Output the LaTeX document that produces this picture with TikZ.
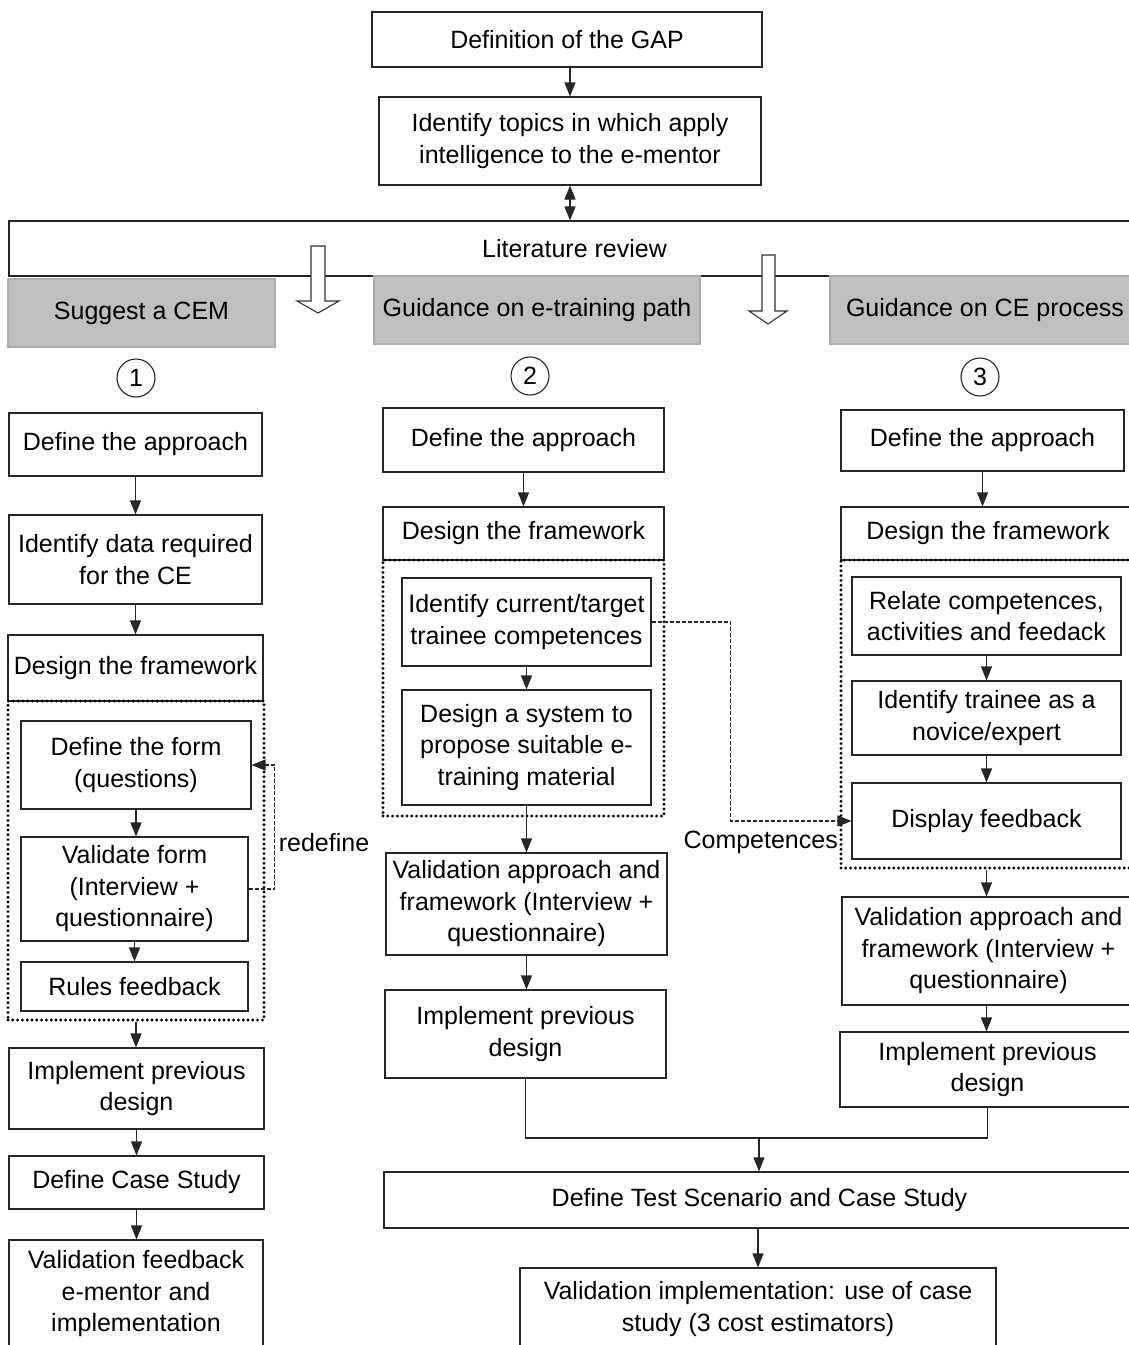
\documentclass[tikz,border=0pt]{standalone}
\usepackage{fontspec}
\setmainfont{Liberation Sans}
\usetikzlibrary{arrows.meta}
% box given by its corners: [options]{name}{x1}{y1}{x2}{y2}{text}
\newcommand\mkbox[7][]{%
  \pgfmathsetmacro\mkboxcx{(#3+#5)/2}%
  \pgfmathsetmacro\mkboxcy{(#4+#6)/2}%
  \pgfmathsetmacro\mkboxw{#5-#3}%
  \pgfmathsetmacro\mkboxh{#6-#4}%
  \node[box,#1,minimum width=\mkboxw pt,minimum height=\mkboxh pt] (#2) at (\mkboxcx,\mkboxcy) {#7};}
\begin{document}
\begin{tikzpicture}[x=1pt,y=-1pt,
  every node/.style={font=\fontsize{25}{31.5}\selectfont},
  box/.style={draw=black!85, fill=white, line width=1.1pt, align=center, inner sep=0pt},
  greybox/.style={draw=black!32, fill=black!25},
  dotbox/.style={draw=black, fill=none, line width=3.2pt, dash pattern=on 0pt off 4.8pt, line cap=round},
  arr/.style={-{Triangle[width=11pt,length=14pt]}, line width=1.1pt, draw=black!85},
  dasharr/.style={arr, line width=1.2pt, dash pattern=on 4pt off 2pt},
  hollow/.style={draw=black!80, fill=white, line width=1.1pt, line join=miter},
  numcirc/.style={circle, draw=black!85, line width=1.1pt, minimum size=38pt, inner sep=0pt},
  lbl/.style={inner sep=0pt}]
\useasboundingbox (0,0) rectangle (1129,1345);
\clip (0,0) rectangle (1129,1345);
\fill[white] (0,0) rectangle (1129,1345);

% ---- top of the chain
\mkbox{gap}{372}{12}{762}{67}{Definition of the GAP}
\mkbox{topics}{379}{97}{761}{185}{Identify topics in which apply\\intelligence to the e-mentor}
\mkbox{lit}{9}{221}{1140}{276}{Literature review}

\draw[arr] (topics.north |- gap.south) -- (topics.north);
\draw[{Triangle[width=11pt,length=14pt]}-{Triangle[width=11pt,length=14pt]}, line width=1.1pt, draw=black!85]
  (topics.south) -- (topics.south |- lit.north);

% ---- the three lines of work
\mkbox[greybox]{cem}{8}{279}{275}{347}{Suggest a CEM}
\mkbox[greybox]{path}{374}{276}{700}{344}{Guidance on e-training path}
\mkbox[greybox]{proc}{830}{276}{1140}{344}{Guidance on CE process}

% hollow arrows out of the literature review
\draw[hollow] (311,246) -- (325,246) -- (325,301) -- (339,301) -- (318,313) -- (297,301) -- (311,301) -- cycle;
\draw[hollow] (762,255) -- (775,255) -- (775,311) -- (787,311) -- (768,324) -- (749,311) -- (762,311) -- cycle;

\node[numcirc] (n1) at (136,378) {1};
\node[numcirc] (n2) at (530,376) {2};
\node[numcirc] (n3) at (980,377) {3};

% ---- column 1
\mkbox{c1a}{9}{413}{262}{476}{Define the approach}
\mkbox{c1b}{9}{515}{262}{604}{Identify data required\\for the CE}
\mkbox{c1c}{8}{635}{263}{701}{Design the framework}
\mkbox[dotbox, fill=none]{g1}{8}{701}{264}{1020}{}
\mkbox{c1d}{21}{721}{251}{809}{Define the form\\(questions)}
\mkbox{c1e}{21}{837}{248}{941}{Validate form\\(Interview +\\questionnaire)}
\mkbox{c1f}{21}{962}{248}{1011}{Rules feedback}
\mkbox{c1g}{9}{1048}{264}{1129}{Implement previous\\design}
\mkbox{c1h}{9}{1156}{264}{1209}{Define Case Study}
\mkbox{c1i}{9}{1240}{263}{1348}{Validation feedback\\e-mentor and\\implementation}

\draw[arr] (c1a.south) -- (c1a.south |- c1b.north);
\draw[arr] (c1b.south) -- (c1b.south |- c1c.north);
\draw[arr] (c1d.south) -- (c1d.south |- c1e.north);
\draw[arr] (c1e.south) -- (c1e.south |- c1f.north);
\draw[arr] (g1.south) -- (g1.south |- c1g.north);
\draw[arr] (c1g.south) -- (c1g.south |- c1h.north);
\draw[arr] (c1h.south) -- (c1h.south |- c1i.north);
\draw[dasharr] (c1e.east) -- ++(26,0) |- (c1d.east);
\node[lbl] (redef) at (324,843) {redefine};

% ---- column 2
\mkbox{c2a}{383}{408}{664}{472}{Define the approach}
\mkbox{c2b}{383}{507}{664}{560}{Design the framework}
\mkbox[dotbox, fill=none]{g2}{383}{560}{664}{816}{}
\mkbox{c2c}{402}{578}{651}{666}{Identify current/target\\trainee competences}
\mkbox{c2d}{402}{690}{651}{805}{Design a system to\\propose suitable e-\\training material}
\mkbox{c2e}{386}{853}{667}{955}{Validation approach and\\framework (Interview +\\questionnaire)}
\mkbox{c2f}{385}{990}{666}{1078}{Implement previous\\design}

\draw[arr] (c2a.south) -- (c2a.south |- c2b.north);
\draw[arr] (c2c.south) -- (c2c.south |- c2d.north);
\draw[arr] (c2d.south) -- (c2d.south |- c2e.north);
\draw[arr] (c2e.south) -- (c2e.south |- c2f.north);

% ---- column 3
\mkbox{c3a}{841}{410}{1124}{471}{Define the approach}
\mkbox{c3b}{841}{507}{1135}{560}{Design the framework}
\mkbox[dotbox, fill=none]{g3}{841}{560}{1140}{868}{}
\mkbox{c3c}{852}{577}{1121}{655}{Relate competences,\\activities and feedack}
\mkbox{c3d}{852}{681}{1121}{755}{Identify trainee as a\\novice/expert}
\mkbox{c3e}{852}{783}{1121}{859}{Display feedback}
\mkbox{c3f}{842}{897}{1135}{1005}{Validation approach and\\framework (Interview +\\questionnaire)}
\mkbox{c3g}{840}{1032}{1135}{1107}{Implement previous\\design}

\draw[arr] (c3a.south) -- (c3a.south |- c3b.north);
\draw[arr] (c3c.south) -- (c3c.south |- c3d.north);
\draw[arr] (c3d.south) -- (c3d.south |- c3e.north);
\draw[arr] (c3e.south |- g3.south) -- (c3e.south |- c3f.north);
\draw[arr] (c3e.south |- c3f.south) -- (c3e.south |- c3g.north);

% competences passed from column 2 to column 3
\draw[dasharr] (c2c.east) -- ++(79,0) |- (c3e.west);
\node[lbl, anchor=east] (comp) at (838,842) {Competences};

% ---- joint ending
\mkbox{test}{384}{1172}{1135}{1228}{Define Test Scenario and Case Study}
\mkbox{valimp}{520}{1268}{996}{1350}{Validation implementation: use of case\\study (3 cost estimators)}
\coordinate (merge) at (759,1138);
\draw[line width=1.1pt, draw=black!85] (c2f.south) |- (merge) -| (c3g.south);
\draw[arr] (merge) -- (merge |- test.north);
\draw[arr] (valimp.north |- test.south) -- (valimp.north);
\end{tikzpicture}
\end{document}
